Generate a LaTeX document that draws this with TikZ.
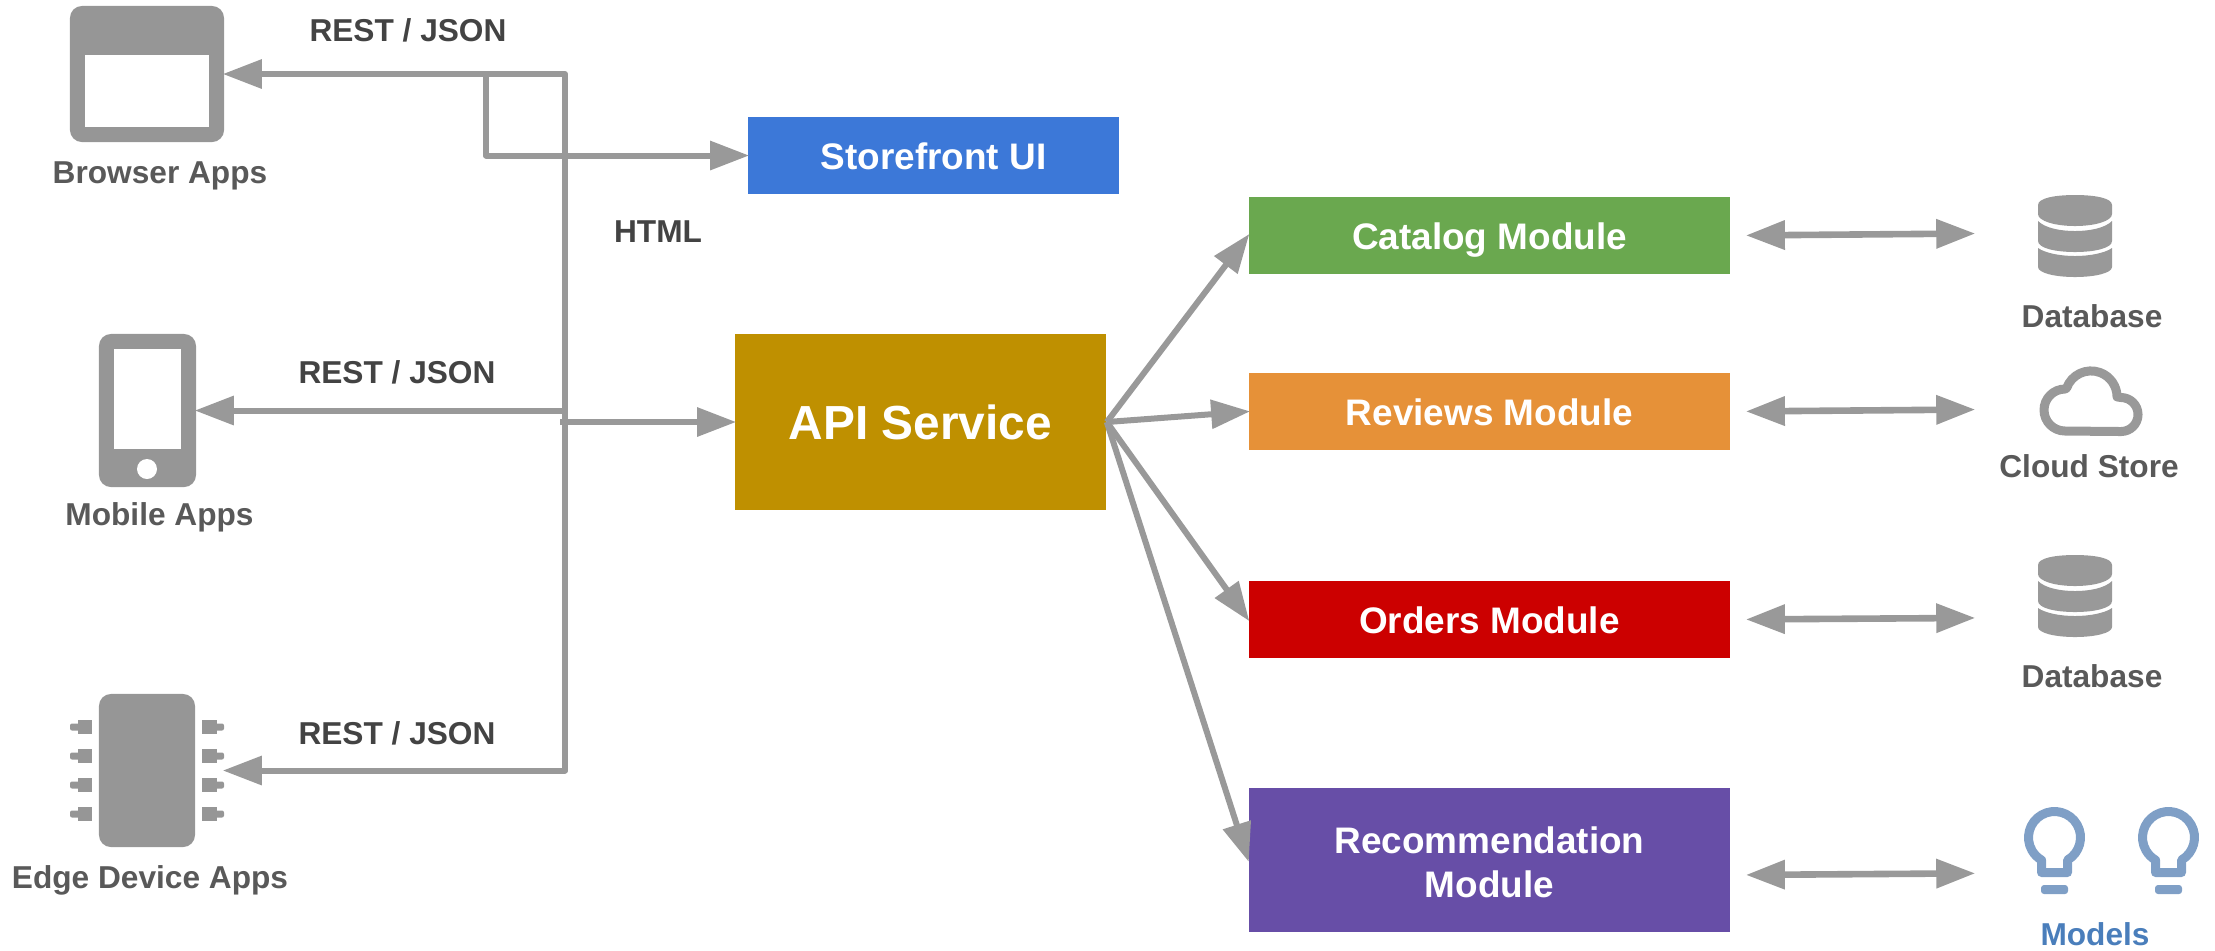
\documentclass[tikz,border=0pt]{standalone}
\usepackage{fontspec}
\setmainfont{Liberation Sans}
\usetikzlibrary{arrows, arrows.meta}
\usetikzlibrary{calc}

\definecolor{linegray}{HTML}{999999}
\definecolor{icongray}{HTML}{969696}
\definecolor{labelgray}{HTML}{595959}
\definecolor{protogray}{HTML}{434343}
\definecolor{bulbblue}{HTML}{7F9FC6}
\definecolor{modelblue}{HTML}{4A7EBB}
\definecolor{frontblue}{HTML}{3C78D8}
\definecolor{apigold}{HTML}{BF9000}
\definecolor{catgreen}{HTML}{6AA84F}
\definecolor{revorange}{HTML}{E69138}
\definecolor{ordred}{HTML}{CC0000}
\definecolor{recpurple}{HTML}{674EA7}

\tikzset{
  box/.style={rectangle, fill=#1, text=white, inner sep=0pt, align=center, font=\bfseries\fontsize{10.5}{12.5}\selectfont},
  oneline/.style={text height=0.28cm, text depth=0cm},
  modbox/.style={box=#1, minimum width=4.81cm, minimum height=0.77cm},
  device/.style={rectangle, rounded corners=0.12cm, fill=icongray, inner sep=0pt},
  spot/.style={rectangle, inner sep=0pt, minimum width=0.74cm, minimum height=0.82cm},
  applabel/.style={inner sep=0pt, text=labelgray, font=\bfseries\fontsize{9}{11}\selectfont},
  proto/.style={inner sep=0pt, text=protogray, font=\bfseries\fontsize{9}{11}\selectfont},
  link/.style={draw=linegray, line width=0.06cm, line join=round, shorten >=-0.02cm, -{Triangle[length=0.39cm, width=0.28cm]}},
  buslink/.style={draw=linegray, line width=0.06cm, line join=round, shorten <=-0.02cm, {Triangle[length=0.39cm, width=0.28cm]}-{Triangle[length=0.39cm, width=0.28cm]}},
  dbllink/.style={buslink, line width=0.066cm, shorten <=0.15cm},
  dbicon/.pic={
    \fill[linegray] (-37,-31) .. controls (-37,-38) and (-20,-41) .. (0,-41) .. controls (20,-41) and (37,-38) .. (37,-31) -- (37,-22) .. controls (37,-15) and (20,-10) .. (0,-10) .. controls (-20,-10) and (-37,-15) .. (-37,-22) -- cycle;
    \fill[linegray] (-37,-15) .. controls (-30,-8) and (-15,-5) .. (0,-5) .. controls (15,-5) and (30,-8) .. (37,-15) -- (37,5) .. controls (37,12) and (20,16) .. (0,16) .. controls (-20,16) and (-37,12) .. (-37,5) -- cycle;
    \fill[linegray] (-37,12) .. controls (-30,17) and (-15,20) .. (0,20) .. controls (15,20) and (30,17) .. (37,12) -- (37,31) .. controls (37,37) and (20,41) .. (0,41) .. controls (-20,41) and (-37,37) .. (-37,31) -- cycle;
  },
  cloudicon/.pic={
    \draw[linegray, line width=0.09cm, line join=round] (-26,30) arc (90:270:21) -- (-24.4,-13) arc (200:360:26) -- (30,-3.5) arc (-90:90:17) -- cycle;
  },
  bulbicon/.pic={
    \draw[bulbblue, line width=0.09cm, line join=round] (13,22.5) arc (60:-240:26) -- (-13,35) -- (13,35) -- cycle;
    \fill[bulbblue, rounded corners=0.03cm] (-13.5,47.5) rectangle (13.5,56.5);
  }
}

\begin{document}
\begin{tikzpicture}[x=0.01cm, y=-0.01cm]
      \useasboundingbox (0,0) rectangle (2215,950);

      \node[device, minimum width=1.54cm, minimum height=1.36cm] (browser) at (147,74) {};
      \node[device, minimum width=0.97cm, minimum height=1.53cm] (mobile) at (147.5,410.5) {};
      \node[device, minimum width=0.96cm, minimum height=1.53cm] (edge) at (147,770.5) {};
      \fill[white] (85,55) rectangle (209,127);
      \fill[white] (114,349) rectangle (181,449);
      \fill[white] (147,469) circle (10);
      \foreach \y in {727,756,785,814} {
        \fill[icongray] (78,\y-7) rectangle (92,\y+7);
        \fill[icongray, rounded corners=0.02cm] (70,\y-3.5) rectangle (80,\y+3.5);
        \fill[icongray] (202,\y-7) rectangle (217,\y+7);
        \fill[icongray, rounded corners=0.02cm] (215,\y-3.5) rectangle (224,\y+3.5);
      }

      \node[applabel] (browserlabel) at (160,176) {Browser Apps};
      \node[applabel] (mobilelabel) at (159.5,517) {Mobile Apps};
      \node[applabel] (edgelabel) at (150,880) {Edge Device Apps};

      \node[box=frontblue, oneline, minimum width=3.71cm, minimum height=0.77cm] (storefront) at (933.5,155.5) {Storefront UI};
      \node[box=apigold, minimum width=3.71cm, minimum height=1.76cm, font=\bfseries\fontsize{13.6}{16}\selectfont] (api) at (920.5,422) {API Service};
      \node[modbox=catgreen, oneline] (catalog) at (1489.5,235.5) {Catalog Module};
      \node[modbox=revorange, oneline] (reviews) at (1489.5,411.5) {Reviews Module};
      \node[modbox=ordred, oneline] (orders) at (1489.5,619.5) {Orders Module};
      \node[modbox=recpurple, minimum height=1.44cm, text height=0.75cm, text depth=0cm] (recommendation) at (1489.5,860) {Recommendation\\Module};

      \node[proto] (restbrowser) at (408,30.5) {REST / JSON};
      \node[proto] (restmobile) at (397,372.5) {REST / JSON};
      \node[proto] (restedge) at (397,733.5) {REST / JSON};
      \node[proto] (html) at (658,231.5) {HTML};

      \coordinate (bustop) at (565,74);
      \coordinate (busbottom) at (565,770.5);
      \coordinate (busmobile) at (565,410.5);
      \coordinate (busapi) at (560,422);
      \coordinate (htmlturn) at (486,74);

      \draw[buslink, shorten >=0.27cm] (browser.east) -- (bustop) -- (busbottom) -- (edge.east);
      \draw[link] (busmobile) -- (mobile.east);
      \draw[link] (htmlturn) |- (storefront.west);
      \draw[link] (busapi) -- (api.west);

      \draw[link] (api.east) -- (catalog.west);
      \draw[link] (api.east) -- (reviews.west);
      \draw[link] (api.east) -- (orders.west);
      \draw[link] (api.east) -- (recommendation.west);

      \node[spot] (dbcatalog) at (2075,233) {};
      \node[spot, minimum width=1.04cm] (cloud) at (2091,409) {};
      \node[spot] (dborders) at (2075,617.5) {};
      \node[spot, minimum width=0.61cm] (bulbleft) at (2054.5,873) {};
      \node[spot, minimum width=0.61cm] (bulbright) at (2168.5,873) {};

      \pic at (2075,236) {dbicon};
      \pic at (2091,401) {cloudicon};
      \pic at (2075,596) {dbicon};
      \pic at (2054.5,837.5) {bulbicon};
      \pic at (2168.5,837.5) {bulbicon};

      \draw[dbllink, shorten >=0.62cm] (catalog.east) -- (dbcatalog.west);
      \draw[dbllink, shorten >=0.63cm] (reviews.east) -- (cloud.west);
      \draw[dbllink, shorten >=0.62cm] (orders.east) -- (dborders.west);
      \draw[dbllink, shorten >=0.48cm] ($(recommendation.east)+(0,15)$) -- (bulbleft.west);

      \node[applabel] (dblabelA) at (2092,316) {Database};
      \node[applabel] (cloudlabel) at (2089,466) {Cloud Store};
      \node[applabel] (dblabelB) at (2092,676) {Database};
      \node[applabel, text=modelblue] (modelslabel) at (2095,934) {Models};
    \end{tikzpicture}
\end{document}
